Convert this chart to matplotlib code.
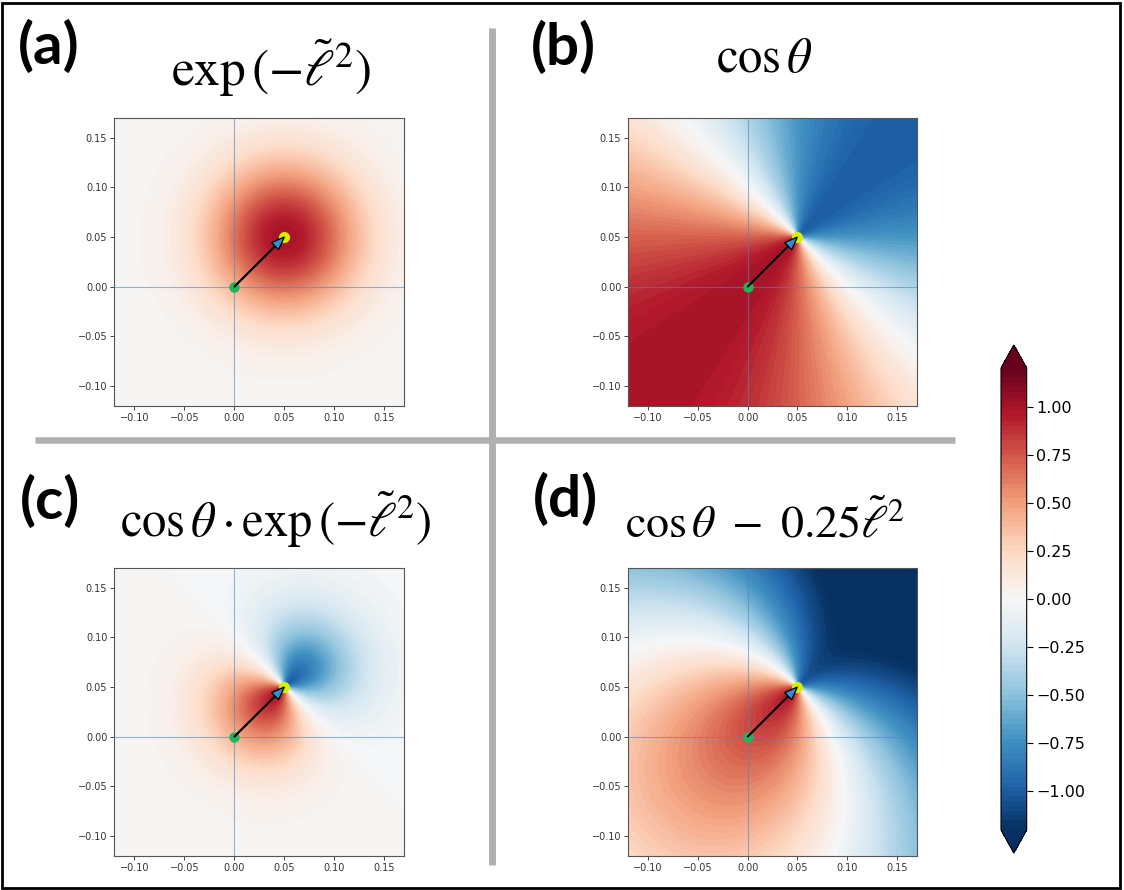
import numpy as np
import matplotlib
matplotlib.use("Agg")
import matplotlib.pyplot as plt
from matplotlib.patches import Rectangle
from matplotlib.lines import Line2D

plt.rcParams['mathtext.fontset'] = 'stix'

# ---- data / parameters ----
origin = (0.0, 0.0)          # green point
target = (0.05, 0.05)        # yellow point (arrow tip)
scale_exp = 0.075            # length scale of l~ in exp panels
scale_quad = 0.078           # length scale used for the penalty term in panel (d)
quad_coef = 0.25
axis_lim = (-0.12, 0.17)
axis_ticks = [-0.10, -0.05, 0.00, 0.05, 0.10, 0.15]
cbar_ticks = [-1.00, -0.75, -0.50, -0.25, 0.00, 0.25, 0.50, 0.75, 1.00]
level_range = (-1.2, 1.2)
n_levels = 97
panel_labels = ['(a)', '(b)', '(c)', '(d)']
panel_titles = [r'$\exp\left(-\tilde{\ell}^2\right)$',
                r'$\cos\theta$',
                r'$\cos\theta\cdot\exp\left(-\tilde{\ell}^2\right)$',
                r'$\cos\theta\ -\ 0.25\tilde{\ell}^2$']

# ---- fields ----
g = np.linspace(axis_lim[0], axis_lim[1], 600)
X, Y = np.meshgrid(g, g)
dx, dy = X - target[0], Y - target[1]
dist = np.hypot(dx, dy)
ox, oy = origin[0] - target[0], origin[1] - target[1]
onorm = np.hypot(ox, oy)
cos_t = (dx * ox + dy * oy) / (np.where(dist == 0, 1e-12, dist) * onorm)
l2_exp = (dist / scale_exp) ** 2
l2_quad = dist / scale_quad
fields = [np.exp(-l2_exp), cos_t, cos_t * np.exp(-l2_exp), cos_t - quad_coef * l2_quad]

W, H = 1124, 890
fig = plt.figure(figsize=(W / 100, H / 100), dpi=100)

def rect(l, t, r, b):
    return [l / W, 1 - b / H, (r - l) / W, (b - t) / H]

ax_rects = [rect(114.3, 117.7, 404.3, 406.0), rect(628.3, 117.7, 916.7, 406.0),
            rect(114.3, 567.7, 404.3, 856.0), rect(628.3, 567.7, 916.7, 856.0)]
levels = np.linspace(level_range[0], level_range[1], n_levels)
cs = None
for i, (r, F) in enumerate(zip(ax_rects, fields)):
    ax = fig.add_axes(r)
    cs = ax.contourf(X, Y, F, levels=levels, cmap='RdBu_r', extend='both')
    ax.axhline(0, color='#4a86c0', lw=0.8, alpha=0.6, zorder=3)
    ax.axvline(0, color='#4a86c0', lw=0.8, alpha=0.6, zorder=3)
    ax.plot(origin[0], origin[1], 'o', color='#1fb55c', ms=6.5, zorder=4)
    ax.plot(target[0], target[1], 'o', color='#d4f000', ms=7, zorder=4)
    ax.arrow(origin[0], origin[1], target[0] - origin[0], target[1] - origin[1],
             width=0.0009, head_width=0.010, head_length=0.013,
             length_includes_head=True, fc='#2f8fd0', ec='black', lw=0.9, zorder=5)
    ax.set_xlim(axis_lim)
    ax.set_ylim(axis_lim)
    ax.set_xticks(axis_ticks)
    ax.set_yticks(axis_ticks)
    ax.tick_params(labelsize=7, length=3, width=0.7, color='#444', labelcolor='#333', pad=2)
    for s in ax.spines.values():
        s.set_color('#555')
        s.set_linewidth(0.8)

cax = fig.add_axes(rect(1001, 345, 1026.7, 853))
cb = fig.colorbar(cs, cax=cax, ticks=cbar_ticks, extend='both')
cb.ax.tick_params(labelsize=11.5, length=4, width=0.8, pad=3)
cb.outline.set_linewidth(0.8)

# labels and titles
label_pos = [(49, 47), (563, 48), (50, 502), (565, 500)]
for lab, (x, y) in zip(panel_labels, label_pos):
    fig.text(x / W, 1 - y / H, lab, fontsize=42, fontweight='bold',
             family=['Lato', 'DejaVu Sans'], ha='center', va='center')
title_pos = [(271, 86, 37), (764, 72, 35), (276, 537, 35), (765, 537, 33)]
for t, (x, y, fs) in zip(panel_titles, title_pos):
    fig.text(x / W, 1 - y / H, t, fontsize=fs, ha='center', va='baseline')

# gray dividers
fig.add_artist(Line2D([492 / W, 492 / W], [1 - 28 / H, 1 - 865 / H], color='#b0b0b0',
                      lw=5, transform=fig.transFigure, solid_capstyle='butt'))
fig.add_artist(Line2D([35 / W, 955 / W], [1 - 440 / H, 1 - 440 / H], color='#b0b0b0',
                      lw=4.7, transform=fig.transFigure, solid_capstyle='butt'))
# outer border
fig.add_artist(Rectangle((2 / W, 2.5 / H), 1117.5 / W, 884.5 / H, fill=False, ec='black',
                         lw=2, transform=fig.transFigure))

fig.savefig('out.png', dpi=100)
